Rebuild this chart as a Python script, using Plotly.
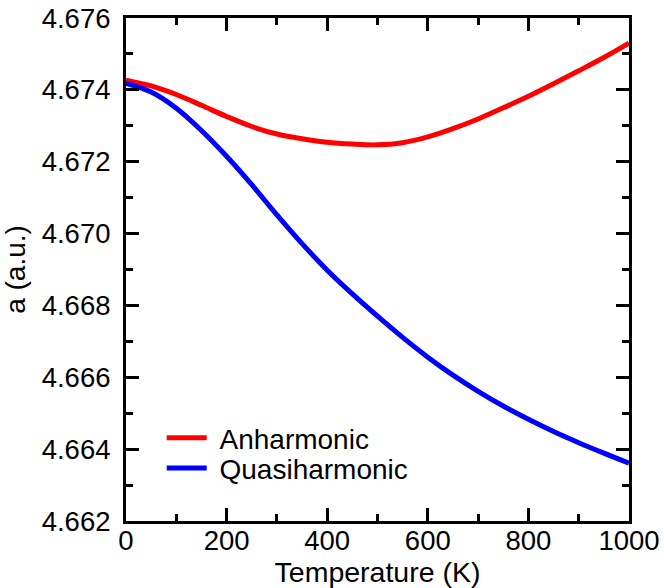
import plotly.graph_objects as go

# Temperature grid (K)
temperature = [0, 50, 100, 150, 200, 250, 300, 350, 400, 450, 500,
               550, 600, 650, 700, 750, 800, 850, 900, 950, 1000]

# Lattice parameter a (a.u.)
a_anharmonic = [4.67427, 4.67411, 4.67387, 4.67357, 4.67326, 4.67298, 4.67277,
                4.67264, 4.67254, 4.67249, 4.67247, 4.67253, 4.67269, 4.67292,
                4.67319, 4.67350, 4.67382, 4.67417, 4.67453, 4.67490, 4.67530]
a_quasiharmonic = [4.67418, 4.67394, 4.67349, 4.67287, 4.67215, 4.67136, 4.67052,
                   4.66972, 4.66898, 4.66832, 4.66770, 4.66711, 4.66656, 4.66606,
                   4.66561, 4.66520, 4.66483, 4.66449, 4.66418, 4.66389, 4.66361]

x_range = [0, 1000]
y_range = [4.662, 4.676]

FONT = "Liberation Sans, Arial, Helvetica, sans-serif"

fig = go.Figure()
fig.add_trace(go.Scatter(x=temperature, y=a_anharmonic, mode="lines",
                         name="\u00a0Anharmonic", legend="legend",
                         line=dict(color="#ff0000", width=5, shape="spline")))
fig.add_trace(go.Scatter(x=temperature, y=a_quasiharmonic, mode="lines",
                         name="\u00a0Quasiharmonic", legend="legend2",
                         xaxis="x2", yaxis="y2",
                         line=dict(color="#0000ff", width=5, shape="spline")))
# Empty placeholders so the minor-tick and label axes get rendered
for xa, ya in (("x3", "y3"), ("x4", "y4")):
    fig.add_trace(go.Scatter(x=[], y=[], mode="lines", xaxis=xa, yaxis=ya,
                             showlegend=False, hoverinfo="skip"))

base = dict(showgrid=False, zeroline=False, automargin=False)
ticked = dict(ticks="inside", tickwidth=3, tickcolor="black", mirror="allticks",
              showticklabels=False, showline=False, **base)

fig.update_layout(
    # Frame
    xaxis=dict(range=x_range, showline=True, linecolor="black", linewidth=3, mirror=True,
               ticks="", showticklabels=False, **base),
    yaxis=dict(range=y_range, showline=True, linecolor="black", linewidth=3, mirror=True,
               ticks="", showticklabels=False, **base),
    # Major ticks
    xaxis2=dict(range=x_range, overlaying="x", anchor="y2", side="bottom",
                tickmode="linear", tick0=0, dtick=200, ticklen=13, **ticked),
    yaxis2=dict(range=y_range, overlaying="y", anchor="x2", side="left",
                tickmode="linear", tick0=4.662, dtick=0.002, ticklen=13, **ticked),
    # Minor ticks
    xaxis3=dict(range=x_range, overlaying="x", anchor="y3", side="bottom",
                tickmode="linear", tick0=0, dtick=100, ticklen=7, **ticked),
    yaxis3=dict(range=y_range, overlaying="y", anchor="x3", side="left",
                tickmode="linear", tick0=4.662, dtick=0.001, ticklen=7, **ticked),
    # Tick labels and titles
    xaxis4=dict(range=x_range, overlaying="x", anchor="free", position=0, side="bottom",
                tickmode="linear", tick0=0, dtick=200, ticks="", showline=False,
                tickfont=dict(family=FONT, size=27.5, color="black"),
                title=dict(text="Temperature (K)", standoff=11,
                           font=dict(family=FONT, size=28.5, color="black")),
                **base),
    yaxis4=dict(range=y_range, overlaying="y", anchor="free", position=0, side="left",
                tickmode="linear", tick0=4.662, dtick=0.002, tickformat=".3f",
                ticks="outside", ticklen=10, tickwidth=1, tickcolor="rgba(0,0,0,0)",
                showline=False,
                tickfont=dict(family=FONT, size=27.5, color="black"),
                title=dict(text="a (a.u.)", standoff=12,
                           font=dict(family=FONT, size=28, color="black")),
                **base),
)

legend_style = dict(xanchor="left", yanchor="middle",
                    font=dict(family=FONT, size=28, color="black"),
                    bgcolor="rgba(0,0,0,0)", itemwidth=40, borderwidth=0)

fig.update_layout(
    width=664, height=588,
    margin=dict(l=126, r=35, t=18, b=67, pad=0),
    paper_bgcolor="white", plot_bgcolor="white",
    legend=dict(x=0.071, y=0.165, **legend_style),
    legend2=dict(x=0.071, y=0.105, **legend_style),
    showlegend=True,
)

fig.write_html("out.html")
